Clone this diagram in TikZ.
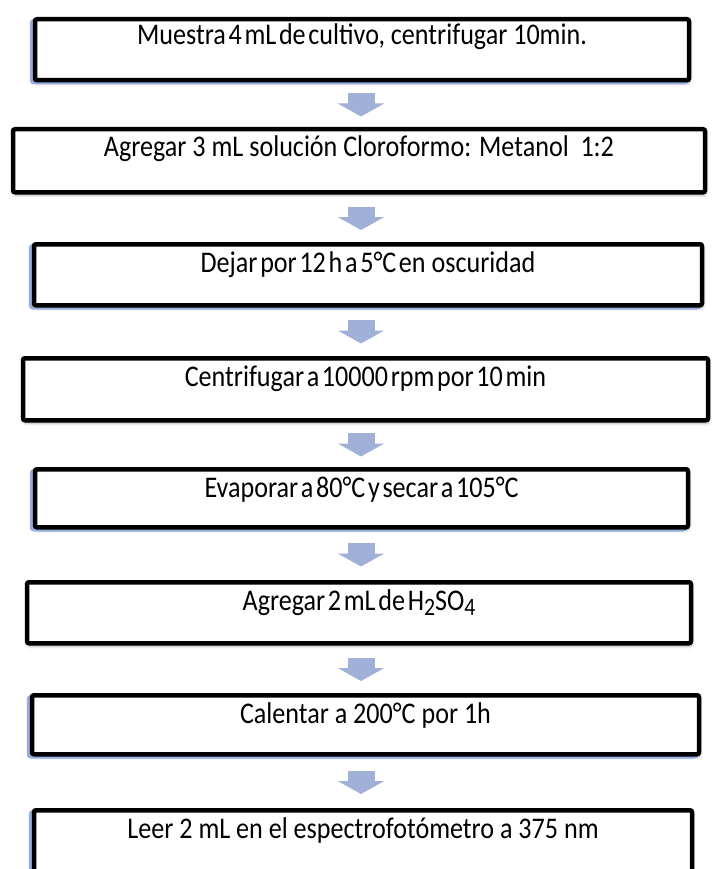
\documentclass[tikz,border=0pt]{standalone}
\usepackage{fontspec}
\setmainfont[FakeStretch=0.87]{Carlito}
\usetikzlibrary{arrows.meta,shadows,shadows.blur}

\definecolor{flechaazul}{RGB}{160,176,214}
\definecolor{bordeazul}{RGB}{150,172,222}
\newcommand{\juntas}[1]{{\spaceskip=0.09em\relax #1}}

\begin{document}
\begin{tikzpicture}[x=1pt, y=-1pt,
  paso/.style={draw, line width=4.5pt, rounded corners=2pt, fill=white, inner sep=0pt,
    anchor=north, font=\fontsize{30}{34}\selectfont, text height=28pt,
    blur shadow={shadow xshift=1pt, shadow yshift=-3pt, shadow blur radius=3pt, shadow opacity=30}},
  azul/.style={general shadow={draw=bordeazul, fill=bordeazul, line width=4.5pt, shadow xshift=-3pt, shadow yshift=-2pt}},
  flecha/.style={line width=27pt, draw=flechaazul, -{Triangle[width=46pt, length=13pt]}}]

  \useasboundingbox (0,0) rectangle (712,869);
  \clip (0,0) rectangle (712,869);

  \node[paso, azul, minimum width=654pt, text height=25pt, text depth=36pt] (p1) at (362,17) {\juntas{Muestra 4 mL de cultivo,} centrifugar 10min.};
  \node[paso, minimum width=692pt, text height=27pt, text depth=36pt] (p2) at (359,127) {Agregar 3 mL solución Cloroformo: Metanol\ \ 1:2};
  \node[paso, azul, minimum width=668pt, text depth=33pt] (p3) at (368,242) {\juntas{Dejar por 12 h a 5°C en} oscuridad};
  \node[paso, minimum width=685pt, text depth=34pt] (p4) at (365.5,356) {\juntas{Centrifugar a 10000 rpm por 10 min}};
  \node[paso, azul, minimum width=653pt, text depth=30pt] (p5) at (361.5,467) {\juntas{Evaporar a 80°C y secar a 105°C}};
  \node[paso, minimum width=664pt, text depth=33pt] (p6) at (359,580) {\juntas{Agregar 2 mL de H\raisebox{-0.35ex}{\fontsize{25}{28}\selectfont 2}SO\raisebox{-0.35ex}{\fontsize{25}{28}\selectfont 4}}};
  \node[paso, azul, minimum width=667pt, text depth=31pt] (p7) at (365.5,693) {Calentar a 200°C por 1h};
  \node[paso, azul, minimum width=658pt, text depth=51pt] (p8) at (363,808) {Leer 2 mL en el espectrofotómetro a 375 nm};

  \coordinate (eje) at (361,0);

  \draw[flecha, shorten <=10.5pt, shorten >=10.5pt] (eje |- p1.south) -- (eje |- p2.north);
  \draw[flecha, shorten <=12pt, shorten >=12pt] (eje |- p2.south) -- (eje |- p3.north);
  \draw[flecha, shorten <=12.5pt, shorten >=12.5pt] (eje |- p3.south) -- (eje |- p4.north);
  \draw[flecha, shorten <=10.5pt, shorten >=10.5pt] (eje |- p4.south) -- (eje |- p5.north);
  \draw[flecha, shorten <=13.5pt, shorten >=13.5pt] (eje |- p5.south) -- (eje |- p6.north);
  \draw[flecha, shorten <=12pt, shorten >=12pt] (eje |- p6.south) -- (eje |- p7.north);
  \draw[flecha, shorten <=14pt, shorten >=14pt] (eje |- p7.south) -- (eje |- p8.north);

\end{tikzpicture}
\end{document}
